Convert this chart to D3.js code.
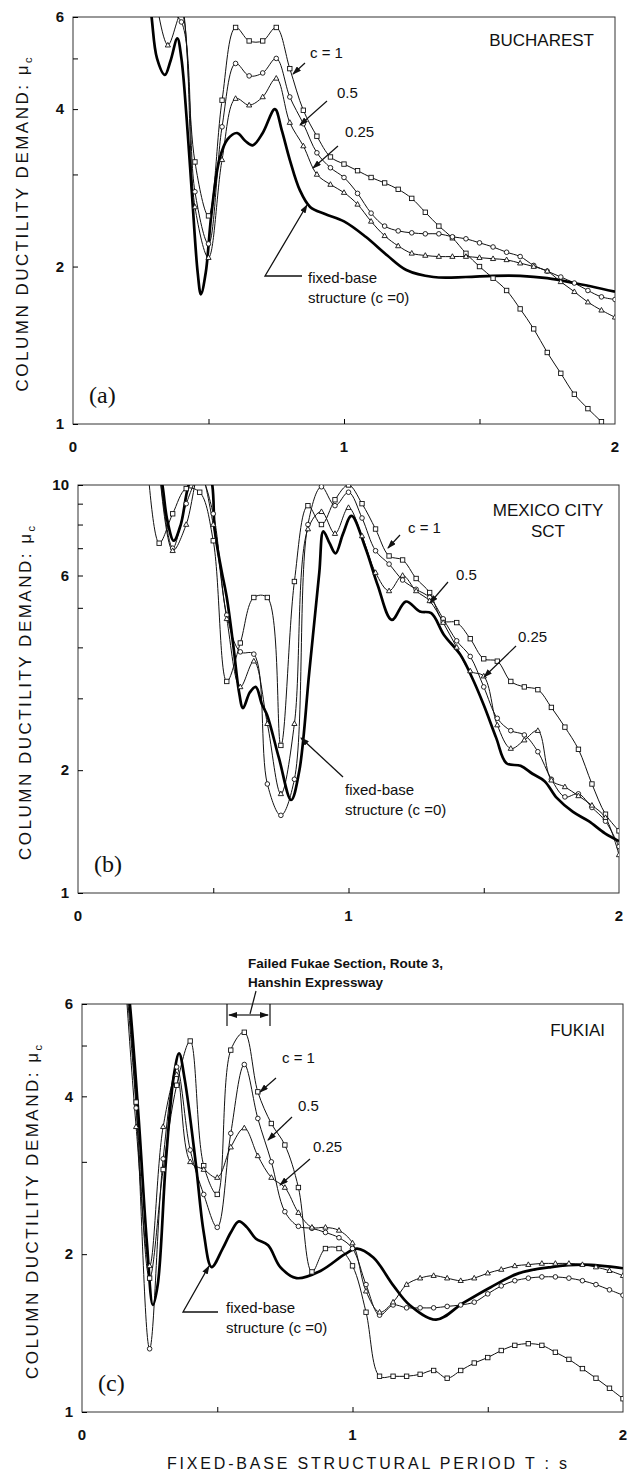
<!DOCTYPE html>
<html>
<head>
<meta charset="utf-8">
<script src="https://cdn.jsdelivr.net/npm/d3@7"></script>
<style>
  body { margin: 0; background: #fff; }
  svg { font-family: "Liberation Sans", Arial, sans-serif; }
</style>
</head>
<body>
<svg id="chart" width="632" height="1473"></svg>
<script>
// ---- tick values / labels
const periodTicks = [0.5, 1, 1.5];
const periodLabels = [0, 1, 2];
const ductTicksA = [1, 2, 3, 4, 5, 6];
const ductLabelsA = [1, 2, 4, 6];
const ductTicksB = [1, 2, 3, 4, 5, 6, 7, 8, 9, 10];
const ductLabelsB = [1, 2, 6, 10];
const ductTicksC = [1, 2, 3, 4, 5, 6];
const ductLabelsC = [1, 2, 4, 6];

// ---- (a) Bucharest : [period T (s), ductility demand]
const bucharestFixed = [[0.27,7.5],[0.29,6.0],[0.31,5.0],[0.339,4.65],[0.36,4.95],[0.385,5.46],[0.40,5.0],[0.42,3.8],[0.44,2.7],[0.46,1.95],[0.472,1.77],[0.49,1.95],[0.51,2.5],[0.54,3.2],[0.57,3.5],[0.606,3.6],[0.635,3.48],[0.663,3.41],[0.70,3.6],[0.745,4.0],[0.77,3.65],[0.80,3.2],[0.837,2.8],[0.875,2.6],[0.93,2.52],[1.0,2.44],[1.08,2.28],[1.16,2.1],[1.23,1.97],[1.33,1.91],[1.45,1.91],[1.55,1.92],[1.65,1.92],[1.75,1.90],[1.85,1.86],[2.0,1.79]];
const bucharestC1 = [[0.35,8.0],[0.40,6.6],[0.45,3.17],[0.50,2.5],[0.55,4.16],[0.60,5.73],[0.65,5.40],[0.70,5.40],[0.75,5.73],[0.80,4.78],[0.85,3.98],[0.90,3.55],[0.95,3.24],[1.00,3.14],[1.05,3.05],[1.10,2.96],[1.15,2.89],[1.20,2.81],[1.25,2.70],[1.30,2.54],[1.35,2.39],[1.40,2.27],[1.45,2.12],[1.50,2.0],[1.55,1.90],[1.60,1.80],[1.65,1.66],[1.70,1.52],[1.75,1.37],[1.80,1.25],[1.85,1.14],[1.90,1.07],[1.95,1.01],[2.0,0.95]];
const bucharestC05 = [[0.30,7.5],[0.35,6.2],[0.40,5.87],[0.45,2.78],[0.50,2.21],[0.55,3.7],[0.60,4.89],[0.65,4.63],[0.70,4.69],[0.75,5.0],[0.80,4.22],[0.85,3.75],[0.90,3.3],[0.95,3.09],[1.00,2.96],[1.05,2.76],[1.10,2.53],[1.15,2.39],[1.20,2.34],[1.25,2.32],[1.30,2.31],[1.35,2.31],[1.40,2.28],[1.45,2.26],[1.50,2.22],[1.55,2.18],[1.60,2.13],[1.65,2.09],[1.70,2.01],[1.75,1.96],[1.80,1.91],[1.85,1.86],[1.90,1.80],[1.95,1.75],[2.0,1.73]];
const bucharestC025 = [[0.30,6.8],[0.35,5.3],[0.40,6.1],[0.45,2.6],[0.50,2.08],[0.55,3.2],[0.60,4.19],[0.65,4.07],[0.70,4.22],[0.75,4.58],[0.80,3.77],[0.85,3.4],[0.90,3.0],[0.95,2.87],[1.00,2.77],[1.05,2.63],[1.10,2.44],[1.15,2.29],[1.20,2.19],[1.25,2.12],[1.30,2.10],[1.35,2.09],[1.40,2.09],[1.45,2.09],[1.50,2.08],[1.55,2.07],[1.60,2.06],[1.65,2.03],[1.70,2.0],[1.75,1.96],[1.80,1.87],[1.85,1.79],[1.90,1.71],[1.95,1.65],[2.0,1.60]];

// ---- (b) Mexico City SCT
const mexicoFixed = [[0.28,13],[0.312,10],[0.33,8.2],[0.354,7.3],[0.38,8.0],[0.409,10],[0.45,11.5],[0.49,10.5],[0.506,7.7],[0.53,6.2],[0.55,5.3],[0.575,4.0],[0.595,3.12],[0.61,2.84],[0.635,3.1],[0.657,3.2],[0.68,2.9],[0.699,2.73],[0.743,2.14],[0.788,1.69],[0.818,1.99],[0.855,3.48],[0.892,6.1],[0.907,7.7],[0.93,7.2],[0.952,6.8],[0.98,7.6],[1.011,8.4],[1.063,7.0],[1.108,5.68],[1.16,4.67],[1.212,5.18],[1.264,4.9],[1.306,4.85],[1.353,4.29],[1.413,3.84],[1.457,3.37],[1.5,2.89],[1.546,2.4],[1.584,2.08],[1.636,2.05],[1.68,1.96],[1.725,1.88],[1.77,1.71],[1.83,1.58],[1.888,1.5],[1.948,1.40],[2.0,1.34]];
const mexicoC1 = [[0.25,13],[0.30,7.2],[0.35,8.5],[0.40,9.8],[0.45,9.6],[0.50,7.3],[0.55,3.3],[0.60,4.1],[0.65,5.3],[0.70,5.3],[0.75,2.3],[0.80,5.8],[0.85,8.9],[0.90,8.0],[0.95,9.2],[1.0,10],[1.05,9.0],[1.10,7.8],[1.15,6.7],[1.20,6.55],[1.25,5.9],[1.30,5.45],[1.35,4.65],[1.40,4.6],[1.45,4.2],[1.50,3.75],[1.55,3.7],[1.60,3.3],[1.65,3.2],[1.70,3.15],[1.75,2.85],[1.80,2.55],[1.85,2.25],[1.90,1.85],[1.95,1.56],[2.0,1.42]];
const mexicoC05 = [[0.30,11],[0.35,7.0],[0.40,9.0],[0.45,10.5],[0.50,8.5],[0.55,4.8],[0.60,3.9],[0.65,3.85],[0.70,1.85],[0.75,1.55],[0.80,1.9],[0.85,8.0],[0.90,9.9],[0.95,8.9],[1.0,9.6],[1.05,8.3],[1.10,6.9],[1.15,6.4],[1.20,5.85],[1.25,5.55],[1.30,5.3],[1.35,4.7],[1.40,4.15],[1.45,3.8],[1.50,3.2],[1.55,2.68],[1.60,2.5],[1.65,2.44],[1.70,2.22],[1.75,1.9],[1.80,1.72],[1.85,1.75],[1.90,1.62],[1.95,1.5],[2.0,1.3]];
const mexicoC025 = [[0.30,11],[0.35,6.9],[0.40,8.0],[0.45,10.8],[0.50,8.0],[0.55,4.7],[0.60,3.2],[0.65,3.7],[0.70,2.6],[0.75,1.75],[0.80,2.6],[0.85,7.8],[0.90,8.6],[0.95,7.6],[1.0,8.8],[1.05,7.5],[1.10,6.1],[1.15,5.5],[1.20,6.0],[1.25,5.5],[1.30,5.2],[1.35,4.6],[1.40,4.0],[1.45,3.5],[1.50,3.4],[1.55,2.58],[1.60,2.26],[1.65,2.37],[1.70,2.5],[1.75,1.89],[1.80,1.82],[1.85,1.73],[1.90,1.64],[1.95,1.53],[2.0,1.24]];

// ---- (c) Fukiai
const fukiaiFixed = [[0.15,8],[0.177,6],[0.21,3.6],[0.24,2.1],[0.262,1.6],[0.28,1.75],[0.31,3.0],[0.34,4.4],[0.359,4.83],[0.38,4.3],[0.42,3.0],[0.45,2.2],[0.479,1.89],[0.52,2.05],[0.55,2.2],[0.58,2.31],[0.61,2.25],[0.643,2.14],[0.688,2.08],[0.733,1.89],[0.793,1.8],[0.883,1.86],[0.972,2.0],[1.017,2.05],[1.077,1.97],[1.152,1.74],[1.211,1.6],[1.309,1.5],[1.406,1.61],[1.511,1.73],[1.616,1.84],[1.735,1.89],[1.855,1.91],[2.0,1.88]];
const fukiaiC1 = [[0.15,9],[0.20,3.9],[0.25,1.8],[0.30,2.9],[0.35,4.2],[0.40,5.1],[0.45,2.95],[0.50,2.6],[0.55,4.9],[0.60,5.3],[0.65,4.08],[0.70,3.55],[0.75,3.23],[0.80,2.68],[0.85,1.85],[0.90,2.05],[0.95,2.05],[1.0,1.9],[1.05,1.55],[1.10,1.17],[1.15,1.17],[1.20,1.17],[1.25,1.18],[1.30,1.2],[1.35,1.16],[1.40,1.2],[1.45,1.24],[1.50,1.27],[1.55,1.31],[1.60,1.34],[1.65,1.35],[1.70,1.34],[1.75,1.3],[1.80,1.26],[1.85,1.21],[1.90,1.16],[1.95,1.11],[2.0,1.06]];
const fukiaiC05 = [[0.15,8],[0.20,3.8],[0.25,1.32],[0.30,3.04],[0.35,4.55],[0.40,3.16],[0.45,2.6],[0.50,2.25],[0.55,3.4],[0.60,4.6],[0.65,3.63],[0.70,3.0],[0.75,2.41],[0.80,2.26],[0.85,2.24],[0.90,2.2],[0.95,2.15],[1.0,2.05],[1.05,1.75],[1.10,1.53],[1.15,1.6],[1.20,1.58],[1.25,1.58],[1.30,1.58],[1.35,1.59],[1.40,1.6],[1.45,1.62],[1.50,1.68],[1.55,1.74],[1.60,1.78],[1.65,1.8],[1.70,1.81],[1.75,1.81],[1.80,1.8],[1.85,1.78],[1.90,1.75],[1.95,1.71],[2.0,1.67]];
const fukiaiC025 = [[0.15,8],[0.20,3.5],[0.25,1.9],[0.30,3.5],[0.35,4.4],[0.40,3.0],[0.45,2.9],[0.50,2.8],[0.55,3.2],[0.60,3.48],[0.65,3.08],[0.70,2.8],[0.75,2.68],[0.80,2.4],[0.85,2.25],[0.90,2.25],[0.95,2.22],[1.0,2.1],[1.05,1.7],[1.10,1.55],[1.15,1.62],[1.20,1.75],[1.25,1.8],[1.30,1.82],[1.35,1.8],[1.40,1.78],[1.45,1.8],[1.50,1.84],[1.55,1.87],[1.60,1.9],[1.65,1.91],[1.70,1.92],[1.75,1.92],[1.80,1.92],[1.85,1.91],[1.90,1.89],[1.95,1.86],[2.0,1.82]];

const svg = d3.select('#chart');

// arrow head
svg.append('defs').append('marker')
    .attr('id', 'arrow')
    .attr('markerUnits', 'userSpaceOnUse')
    .attr('markerWidth', 9).attr('markerHeight', 6)
    .attr('refX', 8).attr('refY', 3)
    .attr('orient', 'auto')
    .append('path').attr('d', 'M0,0 L9,3 L0,6 Z').attr('fill', '#111');

const panels = [
    { id: 'a', top: 17, bottom: 424, left: 73, right: 615, yMax: 6,
      ticks: ductTicksA, labels: ductLabelsA, titleX: 28,
      fixed: bucharestFixed, c1: bucharestC1, c05: bucharestC05, c025: bucharestC025,
      site: ['BUCHAREST'], siteX: 594, siteY: 46,
      notes: [ {t: 'c = 1', x: 310, y: 58, ax: [305, 63, 293, 74]},
               {t: '0.5', x: 337, y: 98, ax: [327, 101, 300, 125]},
               {t: '0.25', x: 345, y: 137, ax: [338, 146, 313, 168]} ],
      fixedNote: {x: 308, y: 283, path: [[302, 276], [265, 276], [307, 205]]} },
    { id: 'b', top: 485, bottom: 893, left: 78, right: 619, yMax: 10,
      ticks: ductTicksB, labels: ductLabelsB, titleX: 31,
      fixed: mexicoFixed, c1: mexicoC1, c05: mexicoC05, c025: mexicoC025,
      site: ['MEXICO CITY', 'SCT'], siteX: 548, siteY: 516,
      notes: [ {t: 'c = 1', x: 408, y: 533, ax: [400, 535, 388, 548]},
               {t: '0.5', x: 456, y: 580, ax: [448, 582, 430, 603]},
               {t: '0.25', x: 518, y: 642, ax: [516, 646, 484, 677]} ],
      fixedNote: {x: 345, y: 795, path: [[343, 777], [301, 738]]} },
    { id: 'c', top: 1004, bottom: 1412, left: 82, right: 623, yMax: 6,
      ticks: ductTicksC, labels: ductLabelsC, titleX: 38,
      fixed: fukiaiFixed, c1: fukiaiC1, c05: fukiaiC05, c025: fukiaiC025,
      site: ['FUKIAI'], siteX: 605, siteY: 1036,
      notes: [ {t: 'c = 1', x: 282, y: 1063, ax: [276, 1078, 260, 1092]},
               {t: '0.5', x: 298, y: 1111, ax: [292, 1117, 268, 1140]},
               {t: '0.25', x: 313, y: 1152, ax: [310, 1159, 280, 1185]} ],
      fixedNote: {x: 226, y: 1313, path: [[218, 1312], [183, 1312], [209, 1266]]} }
];

panels.forEach(p => {
    const x = d3.scaleLinear().domain([0, 2]).range([p.left, p.right]);
    const y = d3.scaleLog().domain([1, p.yMax]).range([p.bottom, p.top]);
    const g = svg.append('g');

    g.append('clipPath').attr('id', 'clip-' + p.id)
        .append('rect')
        .attr('x', p.left).attr('y', p.top)
        .attr('width', p.right - p.left).attr('height', p.bottom - p.top);

    // frame
    g.append('rect')
        .attr('x', p.left).attr('y', p.top)
        .attr('width', p.right - p.left).attr('height', p.bottom - p.top)
        .attr('fill', 'none').attr('stroke', '#333').attr('stroke-width', 1);

    const yAxis = d3.axisLeft(y)
        .tickValues(p.ticks)
        .tickSizeInner(-5).tickSizeOuter(0).tickPadding(9)
        .tickFormat(d => p.labels.includes(d) ? d : '');
    g.append('g')
        .attr('transform', 'translate(' + p.left + ',0)')
        .call(yAxis)
        .call(a => a.select('.domain').remove())
        .selectAll('text')
        .attr('font-size', 15).attr('font-weight', 'bold')
        .attr('font-family', '"Liberation Sans", Arial, sans-serif').attr('fill', '#111');

    const xAxis = d3.axisBottom(x)
        .tickValues(periodTicks)
        .tickSizeInner(-5).tickSizeOuter(0)
        .tickFormat('');
    g.append('g')
        .attr('transform', 'translate(0,' + p.bottom + ')')
        .call(xAxis)
        .call(a => a.select('.domain').remove());

    g.selectAll('.xlab')
        .data(periodLabels)
        .enter()
        .append('text')
        .attr('x', d => x(d))
        .attr('y', p.bottom + 28)
        .attr('text-anchor', 'middle')
        .attr('font-size', 15).attr('font-weight', 'bold').attr('fill', '#111')
        .text(d => d);

    // y title
    const midY = (p.top + p.bottom) / 2 + 4;
    const title = g.append('text')
        .attr('transform', 'translate(' + p.titleX + ',' + midY + ') rotate(-90)')
        .attr('text-anchor', 'middle')
        .attr('font-size', 17).attr('fill', '#111')
        .attr('textLength', 334).attr('lengthAdjust', 'spacing');
    title.append('tspan').text('COLUMN  DUCTILITY  DEMAND:  \u03bc');
    title.append('tspan').attr('font-size', 11).attr('dy', 4).text('c');

    // curves
    const line = d3.line()
        .x(d => x(d[0]))
        .y(d => y(d[1]))
        .curve(d3.curveCatmullRom.alpha(0.5));

    const plot = g.append('g').attr('clip-path', 'url(#clip-' + p.id + ')');

    const thin = [
        { data: p.c1, shape: 'square' },
        { data: p.c05, shape: 'circle' },
        { data: p.c025, shape: 'triangle' }
    ];
    thin.forEach(s => {
        plot.append('path')
            .attr('d', line(s.data))
            .attr('fill', 'none').attr('stroke', '#111').attr('stroke-width', 1);
    });
    plot.append('path')
        .attr('d', line(p.fixed))
        .attr('fill', 'none').attr('stroke', '#000').attr('stroke-width', 2.7);

    thin.forEach(s => {
        const pts = s.data.filter(d => d[1] <= p.yMax * 1.01 && d[1] >= 0.99);
        if (s.shape === 'square') {
            plot.selectAll(null).data(pts).enter().append('rect')
                .attr('x', d => x(d[0]) - 2.2).attr('y', d => y(d[1]) - 2.2)
                .attr('width', 4.4).attr('height', 4.4)
                .attr('fill', '#fff').attr('stroke', '#111').attr('stroke-width', 0.9);
        } else if (s.shape === 'circle') {
            plot.selectAll(null).data(pts).enter().append('circle')
                .attr('cx', d => x(d[0])).attr('cy', d => y(d[1])).attr('r', 2.3)
                .attr('fill', '#fff').attr('stroke', '#111').attr('stroke-width', 0.9);
        } else {
            plot.selectAll(null).data(pts).enter().append('path')
                .attr('transform', d => 'translate(' + x(d[0]) + ',' + y(d[1]) + ')')
                .attr('d', 'M0,-2.8 L2.6,1.8 L-2.6,1.8 Z')
                .attr('fill', '#fff').attr('stroke', '#111').attr('stroke-width', 0.9);
        }
    });

    // panel letter
    g.append('text')
        .attr('x', p.left + 16).attr('y', p.bottom - 21)
        .attr('font-family', '"Liberation Serif", "Times New Roman", serif')
        .attr('font-size', 24).attr('fill', '#111')
        .text('(' + p.id + ')');

    // site name
    g.selectAll('.site')
        .data(p.site)
        .enter()
        .append('text')
        .attr('x', p.siteX)
        .attr('y', (d, i) => p.siteY + i * 21)
        .attr('text-anchor', p.site.length > 1 ? 'middle' : 'end')
        .attr('font-size', 17).attr('fill', '#111')
        .text(d => d);

    // c labels with arrows
    p.notes.forEach(n => {
        g.append('text').attr('x', n.x).attr('y', n.y)
            .attr('font-size', 15).attr('fill', '#111').text(n.t);
        g.append('line')
            .attr('x1', n.ax[0]).attr('y1', n.ax[1]).attr('x2', n.ax[2]).attr('y2', n.ax[3])
            .attr('stroke', '#111').attr('stroke-width', 1.2)
            .attr('marker-end', 'url(#arrow)');
    });

    const fn = p.fixedNote;
    g.append('text').attr('x', fn.x).attr('y', fn.y)
        .attr('font-size', 15).attr('fill', '#111').text('fixed-base');
    g.append('text').attr('x', fn.x).attr('y', fn.y + 20)
        .attr('font-size', 15).attr('fill', '#111').text('structure (c =0)');
    g.append('path')
        .attr('d', d3.line()(fn.path))
        .attr('fill', 'none').attr('stroke', '#111').attr('stroke-width', 1.3)
        .attr('marker-end', 'url(#arrow)');
});

// Hanshin annotation on panel (c)
const note = svg.append('g');
note.append('text').attr('x', 248).attr('y', 968)
    .attr('font-size', 13.5).attr('font-weight', 'bold').attr('fill', '#111')
    .text('Failed Fukae Section, Route 3,');
note.append('text').attr('x', 248).attr('y', 987)
    .attr('font-size', 13.5).attr('font-weight', 'bold').attr('fill', '#111')
    .text('Hanshin Expressway');
note.append('line').attr('x1', 227).attr('y1', 1004).attr('x2', 227).attr('y2', 1026)
    .attr('stroke', '#111').attr('stroke-width', 1.2);
note.append('line').attr('x1', 270).attr('y1', 1004).attr('x2', 270).attr('y2', 1026)
    .attr('stroke', '#111').attr('stroke-width', 1.2);
note.append('line').attr('x1', 248).attr('y1', 1015).attr('x2', 229).attr('y2', 1015)
    .attr('stroke', '#111').attr('stroke-width', 1.2).attr('marker-end', 'url(#arrow)');
note.append('line').attr('x1', 248).attr('y1', 1015).attr('x2', 268).attr('y2', 1015)
    .attr('stroke', '#111').attr('stroke-width', 1.2).attr('marker-end', 'url(#arrow)');
note.append('line').attr('x1', 256).attr('y1', 991).attr('x2', 250).attr('y2', 1014)
    .attr('stroke', '#111').attr('stroke-width', 1.2);

// x title
svg.append('text')
    .attr('x', 367).attr('y', 1469)
    .attr('text-anchor', 'middle')
    .attr('font-size', 16).attr('fill', '#111')
    .attr('textLength', 400).attr('lengthAdjust', 'spacing')
    .text('FIXED-BASE  STRUCTURAL  PERIOD  T  :  s');
</script>
</body>
</html>
